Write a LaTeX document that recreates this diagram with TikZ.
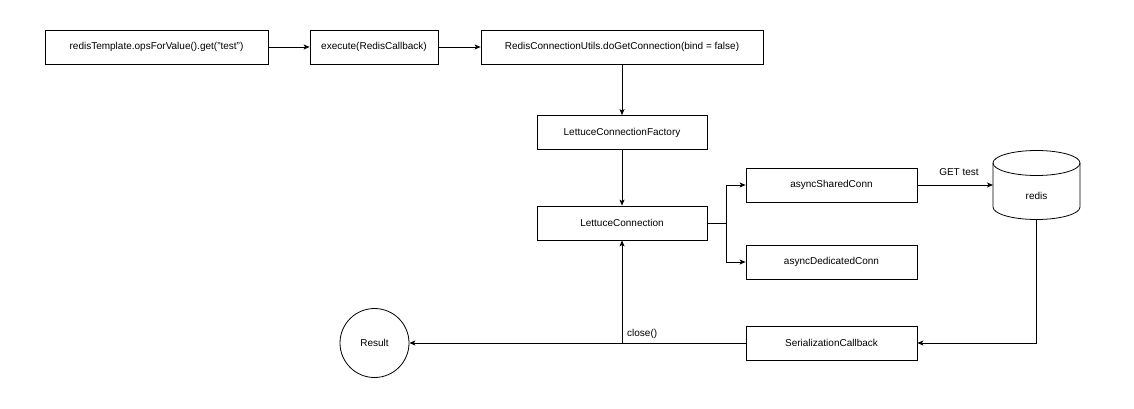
\documentclass[tikz,border=0pt]{standalone}
\usepackage{fontspec}
\setmainfont{Liberation Sans}
\usetikzlibrary{arrows.meta,calc}
\begin{document}
\begin{tikzpicture}[x=1pt,y=-1pt,
  box/.style={draw, line width=0.8pt, minimum height=34pt, inner sep=0pt, font=\fontsize{10}{12}\selectfont},
  conn/.style={line width=0.8pt, -{Stealth[length=6pt,width=5pt,inset=1.5pt]}},
  plain/.style={line width=0.8pt},
  lbl/.style={font=\fontsize{10}{12}\selectfont, inner sep=1pt}]
\useasboundingbox (0,0) rectangle (1134,409);
\node[box, minimum width=223pt] (tpl) at (156.5,47) {redisTemplate.opsForValue().get("test")};
\node[box, minimum width=128pt] (exe) at (374,47) {execute(RedisCallback)};
\node[box, minimum width=282pt] (utl) at (622,47) {RedisConnectionUtils.doGetConnection(bind = false)};
\node[box, minimum width=170pt] (fac) at (622,132.5) {LettuceConnectionFactory};
\node[box, minimum width=170pt] (lc) at (622,223) {LettuceConnection};
\node[box, minimum width=171pt] (shr) at (831.5,185) {asyncSharedConn};
\node[box, minimum width=171pt] (ded) at (831.5,262) {asyncDedicatedConn};
\node[box, minimum width=171pt] (ser) at (831.5,343) {SerializationCallback};
\node[draw, circle, line width=0.8pt, minimum size=69pt, inner sep=0pt, font=\fontsize{10}{12}\selectfont] (res) at (374.5,343) {Result};
% redis cylinder
\draw[line width=0.8pt, fill=white] (993,163) -- (993,207) arc[start angle=180, end angle=360, x radius=43.5pt, y radius=12.5pt] -- (1080,163);
\draw[line width=0.8pt] (1036.5,163) ellipse[x radius=43.5pt, y radius=12.5pt];
\node[lbl] (redis) at (1036.5,196) {redis};
\coordinate (rin) at (993,185);
\coordinate (rout) at (1036.5,219.5);
\coordinate (fork) at (726,223);
\coordinate (turn) at (1036.5,343);
\coordinate (up) at (622,343);
% connectors
\draw[conn] (tpl) -- (exe);
\draw[conn] (exe) -- (utl);
\draw[conn] (utl) -- (fac);
\draw[conn] (fac) -- (lc);
\draw[plain] (lc.east) -- (fork);
\draw[conn] (fork) |- (shr.west);
\draw[conn] (fork) |- (ded.west);
\draw[conn] (shr.east) -- (rin);
\node[lbl] (get) at (959,172) {GET test};
\draw[conn] (rout) -- (turn) -- (ser.east);
\draw[conn] (ser.west) -- (res.east);
\draw[conn] (up) -- (lc.south);
\node[lbl, anchor=south west] (cls) at (626,340) {close()};
\end{tikzpicture}
\end{document}
